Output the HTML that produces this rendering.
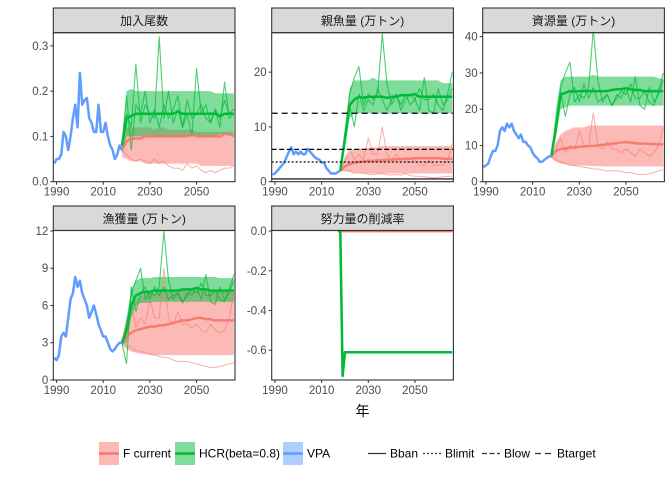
<!DOCTYPE html>
<html><head><meta charset="utf-8"><style>
body{margin:0;background:#fff}
svg text{font-family:"Liberation Sans","Noto Sans CJK JP",sans-serif}
</style></head><body>
<svg id="c" width="672" height="480" xmlns="http://www.w3.org/2000/svg"></svg>
<script>
const vpaYears=[1989,1990,1991,1992,1993,1994,1995,1996,1997,1998,1999,2000,2001,2002,2003,2004,2005,2006,2007,2008,2009,2010,2011,2012,2013,2014,2015,2016,2017,2018];
const projYears=[2018,2020,2022,2024,2026,2028,2030,2032,2034,2036,2038,2040,2042,2044,2046,2048,2050,2052,2054,2056,2058,2060,2062,2064,2066];
// recruitment
const recVPA=[0.04,0.05,0.05,0.06,0.11,0.10,0.07,0.10,0.14,0.17,0.12,0.24,0.17,0.18,0.185,0.14,0.13,0.11,0.11,0.17,0.11,0.11,0.13,0.10,0.08,0.07,0.05,0.06,0.08,0.07];
const recHcrMed=[0.08,0.14,0.145,0.15,0.15,0.15,0.15,0.15,0.15,0.15,0.15,0.15,0.155,0.15,0.15,0.15,0.15,0.15,0.15,0.15,0.15,0.145,0.15,0.15,0.15];
const recHcrLo=[0.06,0.10,0.10,0.10,0.10,0.10,0.10,0.10,0.10,0.10,0.10,0.10,0.10,0.10,0.10,0.10,0.10,0.10,0.10,0.10,0.10,0.105,0.105,0.105,0.105];
const recHcrHi=[0.09,0.20,0.205,0.20,0.20,0.20,0.20,0.20,0.20,0.20,0.20,0.20,0.20,0.20,0.20,0.20,0.20,0.20,0.20,0.20,0.195,0.195,0.195,0.195,0.195];
const recHcrS1=[0.08,0.19,0.07,0.17,0.15,0.20,0.13,0.16,0.12,0.17,0.14,0.16,0.19,0.12,0.15,0.10,0.25,0.15,0.17,0.13,0.16,0.14,0.18,0.15,0.16];
const recHcrS2=[0.07,0.15,0.12,0.26,0.13,0.17,0.15,0.14,0.32,0.14,0.20,0.13,0.16,0.12,0.18,0.14,0.15,0.17,0.14,0.13,0.16,0.12,0.22,0.14,0.15];
const recFcMed=[0.07,0.09,0.095,0.095,0.095,0.10,0.10,0.10,0.10,0.10,0.10,0.10,0.10,0.10,0.10,0.105,0.10,0.10,0.10,0.10,0.10,0.10,0.105,0.105,0.10];
const recFcLo=[0.055,0.05,0.045,0.045,0.045,0.04,0.04,0.04,0.04,0.04,0.04,0.04,0.04,0.04,0.04,0.04,0.04,0.035,0.035,0.035,0.035,0.035,0.035,0.035,0.035];
const recFcHi=[0.08,0.12,0.12,0.12,0.12,0.12,0.12,0.115,0.12,0.12,0.115,0.115,0.115,0.115,0.115,0.115,0.11,0.11,0.11,0.11,0.11,0.11,0.11,0.11,0.11];
const recFcS1=[0.07,0.06,0.05,0.045,0.05,0.045,0.04,0.05,0.04,0.045,0.035,0.03,0.03,0.025,0.04,0.03,0.035,0.025,0.02,0.025,0.02,0.025,0.03,0.03,0.035];
// spawning biomass
const ssbVPA=[1.3,1.5,2,2.5,3,3.5,4.5,5.5,6.3,5,5.5,5,5.5,5,5,6,5.5,5,4.5,4.2,4,3.5,3.5,2.5,2,1.5,1.5,1.5,1.8,2];
const ssbHcrMed=[2,8,14,15,15.5,15.3,15.5,15.5,15.5,15.5,15.3,15.5,15.5,15.8,15.8,15.8,16,15.5,15.5,15.5,15.5,15.5,15.5,15.5,15.5];
const ssbHcrLo=[1.9,6,11.5,12.5,12.5,12.5,12.5,12.5,12.5,12.5,12.5,12.5,12.5,12.5,12.5,12.5,12.5,12.5,12.5,12.5,12.5,12.5,12.5,12.5,12.5];
const ssbHcrHi=[2.1,10,17,18.5,18.5,18.5,18.5,19,18.5,18.5,18.5,18.5,18.5,18.5,18.5,18.5,18.5,18.5,18.5,18.5,18.5,18.5,18,18,18];
const ssbHcrS1=[2,7,14,10,16,13,15,14,17,15,13,15,16,14,16,14,15,13,19,13,12.5,17,14,15,17];
const ssbHcrS2=[2,8,16,19,21,14,16,15,16,27,18,14,16,13,15,16,15,17,15,15,16,14,13,16,20];
const ssbFcMed=[2,2.8,3.2,3.5,3.6,3.7,3.8,3.8,3.9,3.9,4,4,4.1,4.1,4.2,4.2,4.3,4.3,4.3,4.3,4.3,4.3,4.2,4.2,4.2];
const ssbFcLo=[2,2,1.8,1.7,1.6,1.6,1.5,1.5,1.5,1.5,1.5,1.5,1.5,1.5,1.5,1.5,1.5,1.5,1.5,1.5,1.5,1.5,1.5,1.5,1.5];
const ssbFcHi=[2,4.5,5.5,6,6,6,6.2,6.3,6.3,6.5,6.5,6.5,6.5,6.5,6.5,6.5,6.5,6.5,6.5,6.5,6.5,6.5,6.5,6.5,6.5];
const ssbFcS1=[2,4,6,4,5,4,8,5,5,10,5,4,5,4,4,3.5,4,3,3,4,3,3,3,4,7];
const ssbFcS2=[2,2,2,1.5,1.6,1.5,1.4,1.3,1.4,1.5,1.3,1.2,1.3,1.2,1.5,1.1,1,1,0.9,0.8,0.7,0.8,0.9,1,1];
const ssbRefNames=["Bban","Blimit","Blow","Btarget"];
const ssbRefValues=[0.5,3.6,5.9,12.5];
// biomass
const bioVPA=[4,4.5,5,7,8.5,8.5,10,14,15,14,16,15,16,14,13,12,13,11,11,10,9.5,8,7,6.5,5.5,5.5,6,6.5,7,7];
const bioHcrMed=[7,15,24,24.5,25,24.8,25,25,25,25,25,25,25,25.3,25.5,25.5,25.8,25.5,25.3,25.3,25,25,25,25,25];
const bioHcrLo=[6.5,12,20,20.5,21,21,21,21,21,21,21,21,21,21,21,21,21,21,21,21,21,21,21,21,21];
const bioHcrHi=[7.5,20,28,29,29,29,29,29,29,29.5,29,29,29,29,29,29,29,29,29,29,29,29,29,28.5,28.5];
const bioHcrS1=[7,15,25,18,24,26,22,27,23,26,22,23,24,21,24,23,26,22,29,21,20,26,22,24,28];
const bioHcrS2=[7,16,26,30,33,22,24,23,26,42,28,22,24,21,23,25,24,27,23,23,25,22,21,25,30];
const bioFcMed=[7,8.5,9,9.2,9.4,9.5,9.6,9.7,9.8,9.9,10,10.2,10.3,10.5,10.6,10.8,10.9,10.8,10.6,10.5,10.5,10.4,10.4,10.3,10.3];
const bioFcLo=[6.5,5.5,5,4.8,4.6,4.5,4.5,4.4,4.4,4.3,4.3,4.3,4.2,4.2,4.2,4.2,4.2,4.2,4.2,4.2,4.2,4.2,4.2,4.2,4.2];
const bioFcHi=[7.5,11,13,14,14.5,15,15,15,15.5,15.5,15.5,15.5,15.5,15.5,15.5,15.5,15.5,15.5,15.5,15.5,15.5,15.5,15.5,15.5,15.5];
const bioFcS1=[7,9,12,8,10,9,14,10,10,19,10,9,11,9,9,8,9,8,7,9,8,7,8,10,15];
const bioFcS2=[7,6,5.5,5,4.5,4.5,4.2,4,3.8,3.5,3.5,3.2,3,3,3,2.8,2.5,2.5,2.2,2,2,2.2,2.5,3,3.2];
// catch
const catVPA=[1.8,1.6,2,3.5,3.8,3.5,5,6.5,7,8.3,7.5,8,7,6.5,6,5,5.5,6,5.3,4.5,4,3.5,3.5,3,2.5,2.3,2.5,2.8,3,3];
const catHcrMed=[3,4,6,6.8,7,7.1,7.1,7.2,7.2,7.2,7.2,7.2,7.2,7.3,7.3,7.3,7.4,7.3,7.3,7.2,7.2,7.2,7.2,7.2,7.2];
const catHcrLo=[2.8,3,5,6,6.2,6.2,6.2,6.3,6.3,6.3,6.3,6.3,6.3,6.3,6.3,6.3,6.3,6.3,6.3,6.3,6.3,6.3,6.3,6.3,6.3];
const catHcrHi=[3.2,5,7.3,8,8.2,8.2,8.2,8.3,8.3,8.3,8.3,8.3,8.3,8.3,8.3,8.3,8.3,8.3,8.3,8.3,8.3,8.2,8.2,8.2,8.2];
const catHcrS1=[3,1.3,7.5,5.5,7,7.5,6.5,7.5,6.8,7.5,6.5,6.8,7,6.2,7,6.8,7.5,6.5,8.5,6.3,6.1,7.5,6.5,7,8];
const catHcrS2=[3,4,7,8,9,6.5,7,6.8,7.5,12,8,6.5,7,6.3,6.8,7.3,7,7.8,6.8,6.8,7.2,6.5,6.3,7.3,8.5];
const catFcMed=[3,3.5,3.8,4,4.1,4.2,4.3,4.3,4.4,4.4,4.5,4.6,4.7,4.8,4.8,4.9,5,5,4.9,4.9,4.8,4.8,4.8,4.8,4.8];
const catFcLo=[2.8,2.5,2.3,2.2,2.1,2.1,2,2,2,2,2,2,2,2,2,2,2,2,2,2,2,2,2,2,2];
const catFcHi=[3.2,5,6,6.5,6.8,7,7,7,7.2,7.2,7.2,7.2,7.2,7.2,7.2,7.2,7.2,7.2,7.2,7.2,7.2,7.2,7.2,7.2,7.2];
const catFcS1=[3,4.5,6,4.2,5,4.5,6.5,5,5,9,5,4.5,5.5,4.5,4.5,4.2,4.5,4,3.8,4.5,4,3.8,4,5,7];
const catFcS2=[3,2.8,2.6,2.4,2.3,2.2,2.1,2,1.9,1.8,1.8,1.6,1.5,1.5,1.5,1.4,1.3,1.2,1.1,1,1,1.1,1.2,1.3,1.4];
// effort reduction
const effYears=[2017,2018,2019,2020,2030,2040,2050,2066];
const effHcr=[0,0,-0.73,-0.61,-0.61,-0.61,-0.61,-0.61];
const effFc=[0,0,0,0,0,0,0,0];
const xTickLabels=[1990,2010,2030,2050];

const svg=document.getElementById('c');
const NS='http://www.w3.org/2000/svg';
function mk(tag,attrs,parent){const e=document.createElementNS(NS,tag);for(const k in attrs)e.setAttribute(k,attrs[k]);(parent||svg).appendChild(e);return e;}
const HCR='#00BA38',FC='#F8766D',VPA='#619CFF';
const colX=[53.3,271.7,482.7],W=181.7;
function panel(name,title,col,top,bot,stripTop,ymin,ymax,ticks,fmt){
  const g=mk('g',{});
  
  
  const x0=colX[col];
  const xs=y=>x0+(y-1988.6)*2.333;
  const ys=v=>bot-(v-ymin)/(ymax-ymin)*(bot-top);
  const strip=mk('rect',{x:x0,y:stripTop,width:W,height:top-stripTop,fill:'#d9d9d9',stroke:'#333','stroke-width':1.1},g);
  
  
  const st=mk('text',{x:x0+W/2,y:stripTop+(top-stripTop)/2+4.5,'text-anchor':'middle','font-size':12,fill:'#1a1a1a'},g);
  st.textContent=title;
  
  
  const clip=mk('clipPath',{id:'cl'+name},g);mk('rect',{x:x0,y:top,width:W,height:bot-top},clip);
  const inner=mk('g',{'clip-path':'url(#cl'+name+')'},g);
  ticks.forEach(t=>{const y=ys(t);
    mk('line',{x1:x0-3,x2:x0,y1:y,y2:y,stroke:'#333'},g);
    const tx=mk('text',{x:x0-5,y:y+4,'text-anchor':'end','font-size':11.5,fill:'#4d4d4d'},g);tx.textContent=fmt(t);
    
    });
  xTickLabels.forEach(t=>{const x=xs(t);
    mk('line',{x1:x,x2:x,y1:bot,y2:bot+3,stroke:'#333'},g);
    const tx=mk('text',{x:x,y:bot+14,'text-anchor':'middle','font-size':11.5,fill:'#4d4d4d'},g);tx.textContent=t;
    
    });
  const api={
    band(yrs,lo,hi,color,op){let d='';yrs.forEach((y,i)=>d+=(i?'L':'M')+xs(y)+','+ys(hi[i]));for(let i=yrs.length-1;i>=0;i--)d+='L'+xs(yrs[i])+','+ys(lo[i]);
      const p=mk('path',{d:d+'Z',fill:color,opacity:op},inner);},
    line(yrs,v,color,w,op,dash){const d=yrs.map((y,i)=>(i?'L':'M')+xs(y)+','+ys(v[i])).join('');
      const p=mk('path',{d:d,fill:'none',stroke:color,'stroke-width':w,opacity:op||1,'stroke-dasharray':dash||'none','stroke-linejoin':'round'},inner);},
    hline(v,dash,w){const l=mk('line',{x1:x0,x2:x0+W,y1:ys(v),y2:ys(v),stroke:'#000','stroke-width':w||1.2,'stroke-dasharray':dash},inner);},
    frame(){mk('rect',{x:x0,y:top,width:W,height:bot-top,fill:'none',stroke:'#333','stroke-width':1.1},g);}
  };
  return api;
}
function std(p,vpa,hm,hl,hh,hs,fm,fl,fh,fs){
  p.band(projYears,fl,fh,FC,0.5);
  p.band(projYears,hl,hh,HCR,0.5);
  fs.forEach(s=>p.line(projYears,s,FC,1,0.6));
  hs.forEach(s=>p.line(projYears,s,HCR,1.1,0.7));
  p.line(projYears,fm,FC,2.5,0.9);
  p.line(projYears,hm,HCR,2.5);
  p.line(vpaYears,vpa,VPA,2.5);
}
const f1=v=>v.toFixed(1),f0=v=>String(v);
let p=panel('recruitment','加入尾数',0,32.7,181.7,8,0,0.329,[0,0.1,0.2,0.3],f1);
std(p,recVPA,recHcrMed,recHcrLo,recHcrHi,[recHcrS1,recHcrS2],recFcMed,recFcLo,recFcHi,[recFcS1]);p.frame();
p=panel('ssb','親魚量 (万トン)',1,32.7,181.7,8,0,27.2,[0,10,20],f0);
std(p,ssbVPA,ssbHcrMed,ssbHcrLo,ssbHcrHi,[ssbHcrS1,ssbHcrS2],ssbFcMed,ssbFcLo,ssbFcHi,[ssbFcS1,ssbFcS2]);
const dashes=['none','2,2','5,2.5','6,4'];
ssbRefValues.forEach((v,i)=>p.hline(v,dashes[i]));p.frame();
p=panel('biomass','資源量 (万トン)',2,32.7,181.7,8,0,41.1,[0,10,20,30,40],f0);
std(p,bioVPA,bioHcrMed,bioHcrLo,bioHcrHi,[bioHcrS1,bioHcrS2],bioFcMed,bioFcLo,bioFcHi,[bioFcS1,bioFcS2]);p.frame();
p=panel('catch','漁獲量 (万トン)',0,230.5,380,206,0,12.04,[0,3,6,9,12],f0);
std(p,catVPA,catHcrMed,catHcrLo,catHcrHi,[catHcrS1,catHcrS2],catFcMed,catFcLo,catFcHi,[catFcS1,catFcS2]);p.frame();
p=panel('effort','努力量の削減率',1,230.5,380,206,-0.75,0.003,[0,-0.2,-0.4,-0.6],f1);
p.line(effYears,effFc,FC,2.5);p.line(effYears,effHcr,HCR,2.5);p.frame();

const xl=mk('text',{x:colX[1]+W/2,y:416,'text-anchor':'middle','font-size':14,fill:'#000'});xl.textContent='年';


// legend
const lg=mk('g',{});


[[99,FC,'F current'],[175,HCR,'HCR(beta=0.8)'],[283,VPA,'VPA']].forEach(([x,c,t])=>{
  const e=mk('g',{},lg);
  
  
  mk('rect',{x:x,y:442,width:20,height:23,fill:c,opacity:0.5},e);
  mk('line',{x1:x,x2:x+20,y1:453.5,y2:453.5,stroke:c,'stroke-width':2.5},e);
  const tx=mk('text',{x:x+24,y:457.5,'font-size':12,fill:'#000'},e);tx.textContent=t;});
[[368,'none','Bban'],[423,'2,2','Blimit'],[482,'5,2.5','Blow'],[535,'6,4','Btarget']].forEach(([x,d,t])=>{
  const e=mk('g',{},lg);
  
  
  mk('line',{x1:x,x2:x+18,y1:453.5,y2:453.5,stroke:'#333','stroke-width':1.3,'stroke-dasharray':d},e);
  const tx=mk('text',{x:x+22,y:457.5,'font-size':12,fill:'#000'},e);tx.textContent=t;});
</script>
</body></html>
